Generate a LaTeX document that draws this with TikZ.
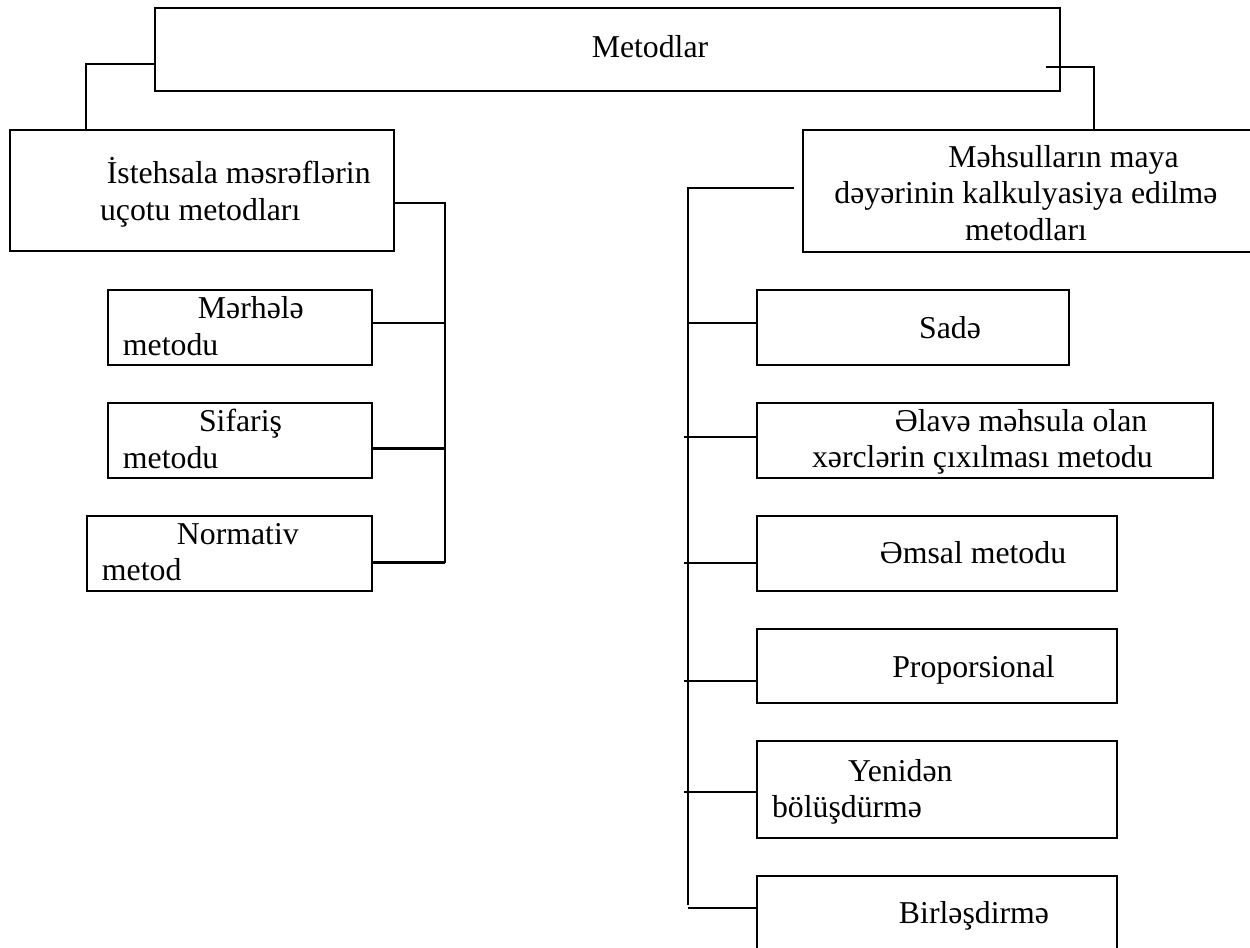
\documentclass[tikz,border=0pt]{standalone}
\usepackage{fontspec}
\setmainfont{Liberation Serif}
\usetikzlibrary{calc, fit}

\begin{document}
\begin{tikzpicture}[x=0.4405pt, y=-0.4405pt,
  box/.style={draw=black, line width=1.2pt, inner sep=0pt, outer sep=0pt},
  lbl/.style={inner sep=0pt, outer sep=0pt, font=\fontsize{14}{16.1}\selectfont},
  link/.style={black, line width=0.9pt}]

% Page frame
\useasboundingbox (0,0) rectangle (1250,948);

% ============================================================
% Top box
% ============================================================
\node[box, fit={(155,8) (1060,91)}] (metodlar) {};
\node[lbl, anchor=base] (metodlar-txt) at (650,58) {Metodlar};

% ============================================================
% Left branch: cost accounting
% ============================================================
\node[box, fit={(10,130) (394,251)}] (istehsal) {};
\node[lbl, anchor=west, align=left] (istehsal-txt) at (100,192)
  {\hspace*{3pt}İstehsala məsrəflərin\\uçotu metodları};

\node[box, fit={(108,290) (372,365)}] (merhele) {};
\node[lbl, anchor=west, align=left] (merhele-txt) at (123,326)
  {\hspace*{33pt}Mərhələ\\metodu};

\node[box, fit={(108,403) (372,478)}] (sifaris) {};
\node[lbl, anchor=west, align=left] (sifaris-txt) at (123,439)
  {\hspace*{33.5pt}Sifariş\\metodu};

\node[box, fit={(87,516) (372,591)}] (normativ) {};
\node[lbl, anchor=west, align=left] (normativ-txt) at (102,552)
  {\hspace*{33pt}Normativ\\metod};

% ============================================================
% Right branch: costing
% ============================================================
\node[box, fit={(803,130) (1262,252)}] (mehsul) {};
\node[lbl, align=center] (mehsul-txt) at (1026,193)
  {\hspace*{33pt}Məhsulların maya\\dəyərinin kalkulyasiya edilmə\\metodları};

\node[box, fit={(757,290) (1069,365)}] (sade) {};
\node[lbl, anchor=base] (sade-txt) at (950,338) {Sadə};

\node[box, fit={(757,403) (1213,478)}] (elave) {};
\node[lbl, anchor=west, align=left] (elave-txt) at (812,442)
  {\hspace*{36.5pt}Əlavə məhsula olan\\xərclərin çıxılması metodu};

\node[box, fit={(757,516) (1117,591)}] (emsal) {};
\node[lbl, anchor=base] (emsal-txt) at (973,563) {Əmsal metodu};

\node[box, fit={(757,629) (1117,703)}] (proporsional) {};
\node[lbl, anchor=base] (proporsional-txt) at (973.5,677) {Proporsional};

\node[box, fit={(757,741) (1117,838)}] (yeniden) {};
\node[lbl, anchor=west, align=left] (yeniden-txt) at (772,792)
  {\hspace*{33.5pt}Yenidən\\bölüşdürmə};

\node[box, fit={(757,876) (1117,955)}] (birlesdirme) {};
\node[lbl, anchor=base] (birlesdirme-txt) at (974,923) {Birləşdirmə};

% ============================================================
% Connectors
% ============================================================
\draw[link] ($(metodlar.north west)!0.675!(metodlar.south west)$)
  -| ($(istehsal.north west)!0.198!(istehsal.north east)$);
\draw[link] ([shift={(-14,17.5)}]metodlar.east) -| ([shift={(291,0)}]mehsul.north west);

% left trunk
\coordinate (ltrunk) at (445,563);
\draw[link] ([shift={(0,12.5)}]istehsal.east) -| (ltrunk);
\foreach \b/\d in {merhele/-4.5, sifaris/8, normativ/9}
  \draw[link] ([shift={(0,\d)}]\b.east) coordinate (p) -- (p -| ltrunk);

% right trunk (short ticks stick out on the left at some joints)
\coordinate (rtrunk) at (688,905);
\draw[link] ([shift={(-9,-3)}]mehsul.west) -| (rtrunk);
\foreach \b/\d/\t in {sade/-4.5/0, elave/-3.5/4, emsal/9.5/4, proporsional/15/4,
                      yeniden/2.5/4, birlesdirme/-7.5/0}
  \draw[link] ([shift={(0,\d)}]\b.west) coordinate (p) -- (p -| rtrunk) -- ++(-\t,0);

\end{tikzpicture}
\end{document}
